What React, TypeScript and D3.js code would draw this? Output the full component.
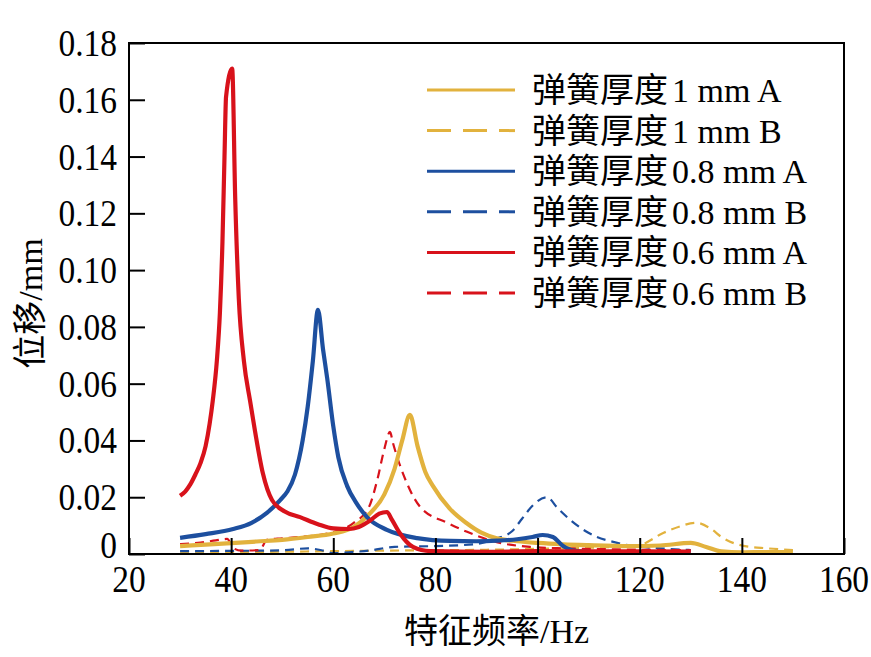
import { useEffect, useRef } from 'react';
import * as d3 from 'd3';

const W = 871;
const H = 657;
const [mt, mr, mb, ml] = [43, 27, 103, 129];

const xTicks = [20, 40, 60, 80, 100, 120, 140, 160];
const yTicks = [0, 0.02, 0.04, 0.06, 0.08, 0.1, 0.12, 0.14, 0.16, 0.18];
const yTickLabels = ['0', '0.02', '0.04', '0.06', '0.08', '0.10', '0.12', '0.14', '0.16', '0.18'];

// 弹簧厚度 1 mm
const goldAF = [30, 35, 40, 45, 50, 55, 60, 64, 67, 70, 72, 73.5, 75, 76.5, 78, 79.5, 82.8, 86, 89, 92, 96, 100, 105, 110, 118, 124, 130, 133, 136, 140, 145, 150];
const goldAV = [0.0028, 0.0033, 0.0038, 0.0044, 0.005, 0.006, 0.0072, 0.0095, 0.014, 0.021, 0.03, 0.04, 0.049, 0.038, 0.029, 0.024, 0.016, 0.011, 0.0075, 0.0055, 0.0045, 0.0039, 0.0034, 0.0031, 0.0028, 0.003, 0.0039, 0.0025, 0.0009, 0.0006, 0.0007, 0.0007];
const goldBF = [30, 40, 50, 60, 70, 80, 90, 100, 110, 116, 120, 124.6, 128, 131, 134, 136, 140, 145, 150];
const goldBV = [0.0007, 0.0007, 0.0008, 0.001, 0.0012, 0.0013, 0.0015, 0.0018, 0.0022, 0.0026, 0.0032, 0.0074, 0.0098, 0.011, 0.0088, 0.006, 0.003, 0.002, 0.0014];

// 弹簧厚度 0.8 mm
const blueAF = [30, 35, 40.4, 44, 47, 49.6, 51, 52.5, 54, 55, 56, 57, 58, 58.8, 60, 61, 62.7, 64.5, 66.6, 70.5, 76.4, 82.9, 88, 92, 96, 99, 101, 103, 105, 107, 110, 120, 130];
const blueAV = [0.0057, 0.007, 0.0088, 0.011, 0.0145, 0.019, 0.022, 0.028, 0.04, 0.052, 0.068, 0.086, 0.072, 0.062, 0.045, 0.034, 0.024, 0.018, 0.013, 0.0085, 0.0056, 0.0046, 0.0045, 0.0047, 0.0052, 0.006, 0.0067, 0.006, 0.0028, 0.0012, 0.0008, 0.0006, 0.0005];
const blueBF = [30, 40, 50, 55, 58, 60, 63, 67, 72, 80, 88, 92, 95, 97, 99, 101.8, 104, 106.4, 109, 111.6, 115, 118, 124, 130];
const blueBV = [0.001, 0.0011, 0.0013, 0.002, 0.0012, 0.0003, 0.0006, 0.0012, 0.0025, 0.0028, 0.0035, 0.0055, 0.008, 0.0125, 0.017, 0.02, 0.016, 0.012, 0.0085, 0.006, 0.0042, 0.003, 0.002, 0.0014];

// 弹簧厚度 0.6 mm
const redAF = [30, 31, 32, 33, 34, 35, 35.8, 36.4, 37.2, 37.8, 38.3, 38.7, 39, 40.2, 40.8, 41.5, 42.5, 43.7, 44.7, 46.2, 48, 50.5, 53.5, 57, 60, 63, 65, 67, 69, 70.5, 71.5, 73, 75.6, 79, 90, 100, 110, 120, 130];
const redAV = [0.0205, 0.022, 0.0245, 0.028, 0.032, 0.038, 0.046, 0.054, 0.068, 0.085, 0.11, 0.14, 0.161, 0.171, 0.125, 0.09, 0.068, 0.054, 0.043, 0.0285, 0.019, 0.015, 0.013, 0.0105, 0.009, 0.0088, 0.0095, 0.0115, 0.0142, 0.0148, 0.012, 0.0074, 0.0025, 0.001, 0.0008, 0.001, 0.0009, 0.0009, 0.0008];
const redBF = [30, 34, 37, 39.2, 40.5, 42, 45.6, 47, 50, 53.5, 59.4, 64, 67, 68.6, 70, 71.1, 71.7, 74.4, 77, 82.3, 86.2, 92, 98.5, 105, 110, 120, 130];
const redBV = [0.0035, 0.004, 0.0048, 0.0053, 0.002, 0.0012, 0.0014, 0.005, 0.0055, 0.006, 0.0074, 0.011, 0.0166, 0.026, 0.037, 0.043, 0.039, 0.025, 0.0166, 0.011, 0.0078, 0.0042, 0.0025, 0.002, 0.0018, 0.0015, 0.0013];

const gold = '#e2b23d';
const blue = '#1d4f9f';
const red = '#d8121b';

const series = [
    { cjk: '弹簧厚度', spec: '1 mm A', f: goldAF, v: goldAV, color: gold, dashed: false },
    { cjk: '弹簧厚度', spec: '1 mm B', f: goldBF, v: goldBV, color: gold, dashed: true },
    { cjk: '弹簧厚度', spec: '0.8 mm A', f: blueAF, v: blueAV, color: blue, dashed: false },
    { cjk: '弹簧厚度', spec: '0.8 mm B', f: blueBF, v: blueBV, color: blue, dashed: true },
    { cjk: '弹簧厚度', spec: '0.6 mm A', f: redAF, v: redAV, color: red, dashed: false },
    { cjk: '弹簧厚度', spec: '0.6 mm B', f: redBF, v: redBV, color: red, dashed: true }
];

// 画图顺序
const drawOrder = [1, 3, 5, 0, 2, 4];

const font = '"Liberation Serif", "Times New Roman", "Noto Sans CJK SC", serif';

export default function App() {
    const ref = useRef<SVGSVGElement>(null);

    useEffect(() => {
        const svg = d3.select(ref.current);
        svg.selectAll('*').remove();

        const gw = W - ml - mr;
        const gh = H - mt - mb;

        const x = d3.scaleLinear().domain([20, 160]).range([ml, ml + gw]);
        const y = d3.scaleLinear().domain([0, 0.18]).range([mt + gh, mt]);

        const line = d3
            .line<[number, number]>()
            .curve(d3.curveMonotoneX)
            .x((d) => x(d[0]))
            .y((d) => y(d[1]));

        const plot = svg.append('g');
        drawOrder.forEach((i) => {
            const s = series[i];
            const pts = s.f.map((f, k) => [f, s.v[k]] as [number, number]);
            plot.append('path')
                .datum(pts)
                .attr('fill', 'none')
                .attr('stroke', s.color)
                .attr('stroke-width', s.dashed ? 2.2 : 4.2)
                .attr('stroke-dasharray', s.dashed ? '9 6' : null)
                .attr('stroke-linejoin', 'round')
                .attr('d', line);
        });

        // 边框
        svg.append('rect')
            .attr('x', ml)
            .attr('y', mt)
            .attr('width', gw)
            .attr('height', gh)
            .attr('fill', 'none')
            .attr('stroke', '#000')
            .attr('stroke-width', 2);

        // x轴
        const xAxis = d3.axisBottom(x).tickValues(xTicks).tickSizeInner(-16).tickSizeOuter(0).tickFormat(() => '');
        svg.append('g')
            .attr('transform', `translate(0, ${mt + gh})`)
            .call(xAxis)
            .call((g) => g.select('.domain').remove())
            .call((g) => g.selectAll('.tick line').attr('stroke-width', 2).attr('stroke', '#000'));

        svg.append('g')
            .selectAll('text')
            .data(xTicks)
            .join('text')
            .attr('transform', (d) => `translate(${x(d)}, ${mt + gh + 38}) scale(0.88, 1)`)
            .attr('text-anchor', 'middle')
            .attr('font-family', font)
            .attr('font-size', 38)
            .text((d) => String(d));

        // y轴
        const yAxis = d3.axisLeft(y).tickValues(yTicks).tickSizeInner(-16).tickSizeOuter(0).tickFormat(() => '');
        svg.append('g')
            .attr('transform', `translate(${ml}, 0)`)
            .call(yAxis)
            .call((g) => g.select('.domain').remove())
            .call((g) => g.selectAll('.tick line').attr('stroke-width', 2).attr('stroke', '#000'));

        svg.append('g')
            .selectAll('text')
            .data(yTicks)
            .join('text')
            .attr('transform', (d) => `translate(${ml - 12}, ${y(d) + (d === 0 ? 4 : 13)}) scale(0.88, 1)`)
            .attr('text-anchor', 'end')
            .attr('font-family', font)
            .attr('font-size', 38)
            .text((_d, i) => yTickLabels[i]);

        // 轴标题
        svg.append('text')
            .attr('transform', `translate(${(ml + ml + gw) / 2 + 10}, ${H - 14})`)
            .attr('text-anchor', 'middle')
            .attr('font-family', font)
            .attr('font-size', 34)
            .text('特征频率/Hz');

        svg.append('text')
            .attr('transform', `translate(42, ${mt + gh / 2 + 5}) rotate(-90)`)
            .attr('text-anchor', 'middle')
            .attr('font-family', font)
            .attr('font-size', 34)
            .text('位移/mm');

        // 图例
        const legend = svg.append('g').attr('transform', 'translate(427, 90)');
        series.forEach((s, i) => {
            const row = legend.append('g').attr('transform', `translate(0, ${i * 40.6})`);
            row.append('line')
                .attr('x1', 0)
                .attr('x2', 88)
                .attr('stroke', s.color)
                .attr('stroke-width', 3)
                .attr('stroke-dasharray', s.dashed ? '24 12' : null);
            const t = row.append('text')
                .attr('x', 105)
                .attr('y', 12)
                .attr('font-family', font)
                .attr('font-size', 34);
            t.append('tspan').text(s.cjk);
            t.append('tspan').attr('dx', 4).text(s.spec);
        });
    }, []);

    return <svg ref={ref} width={W} height={H} style={{ position: 'absolute', left: 0, top: 0, background: '#fff' }} />;
}
